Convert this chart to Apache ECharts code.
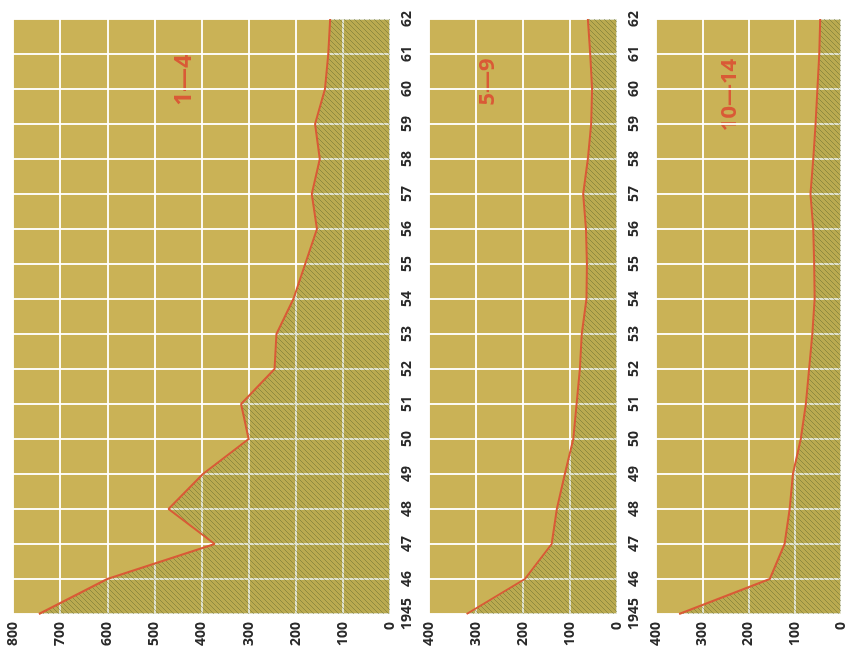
<!DOCTYPE html>
<html>
<head>
<meta charset="utf-8">
<script src="https://cdn.jsdelivr.net/npm/echarts@6/dist/echarts.min.js"></script>
<style>
html,body{margin:0;padding:0;background:#fff;}
#chart{width:848px;height:651px;}
</style>
</head>
<body>
<div id="chart"></div>
<script>
// ---- data ----
const years = ['1945','46','47','48','49','50','51','52','53','54','55','56','57','58','59','60','61','62'];
const age1to4 = [745, 600, 372, 470, 397, 300, 316, 245, 241, 205, 180, 155, 166, 149, 159, 138, 131, 127];
const age5to9 = [320, 196, 139, 128, 111, 93, 86, 79, 75, 65, 64, 66, 72, 62, 55, 53, 57, 62];
const age10to14 = [350, 154, 122, 111, 104, 87, 76, 69, 62, 57, 58, 60, 66, 60, 55, 51, 47, 45];
const panelTitles = ['1—4', '5—9', '10—14'];
const panelMax = [800, 400, 400];

// ---- styles ----
const bgColor = '#cab256';
const lineColor = '#d95a36';
const labelFont = {fontFamily: 'Open Sans', fontWeight: 'bold', fontSize: 14, color: '#2a2a2a'};

function makeHatch() {
  const c = document.createElement('canvas');
  const s = 5;
  c.width = s; c.height = s;
  const ctx = c.getContext('2d');
  ctx.fillStyle = 'rgba(130,140,60,0.22)';
  ctx.fillRect(0, 0, s, s);
  ctx.strokeStyle = 'rgba(85,95,40,0.42)';
  ctx.lineWidth = 1;
  ctx.beginPath();
  ctx.moveTo(-1, -1); ctx.lineTo(s + 1, s + 1);
  ctx.moveTo(-1, s - 1); ctx.lineTo(1, s + 1);
  ctx.moveTo(s - 1, -1); ctx.lineTo(s + 1, 1);
  ctx.stroke();
  return c;
}
const hatch = makeHatch();

const grids = [
  {left: 13, right: 458, top: 19, bottom: 37},
  {left: 429, right: 231, top: 19, bottom: 37},
  {left: 656, right: 4, top: 19, bottom: 37}
];
const seriesData = [age1to4, age5to9, age10to14];

const chart = echarts.init(document.getElementById('chart'));
const option = {
  animation: false,
  backgroundColor: '#ffffff',
  grid: grids.map(g => Object.assign({show: true, backgroundColor: bgColor, borderWidth: 0}, g)),
  xAxis: grids.map((g, i) => ({
    type: 'value',
    gridIndex: i,
    min: 0,
    max: panelMax[i],
    interval: 100,
    inverse: true,
    position: 'bottom',
    axisLine: {show: false},
    axisTick: {show: false},
    splitLine: {show: true, lineStyle: {color: 'rgba(255,255,255,0.92)', width: 2}},
    axisLabel: Object.assign({rotate: 90, margin: 8}, labelFont)
  })),
  yAxis: grids.map((g, i) => ({
    type: 'category',
    gridIndex: i,
    data: years,
    boundaryGap: false,
    position: 'right',
    axisLine: {show: false},
    axisTick: {show: false},
    splitLine: {show: true, lineStyle: {color: 'rgba(255,255,255,0.92)', width: 2}},
    axisLabel: Object.assign({show: i < 2, rotate: 90, margin: 10, interval: 0}, labelFont)
  })),
  series: seriesData.map((d, i) => ({
    type: 'line',
    xAxisIndex: i,
    yAxisIndex: i,
    data: d,
    symbol: 'none',
    lineStyle: {color: lineColor, width: 2},
    itemStyle: {color: lineColor},
    areaStyle: {color: {image: hatch, repeat: 'repeat'}, opacity: 1},
    z: 3
  })),
  graphic: [
    {type: 'text', x: 184, y: 80, rotation: Math.PI / 2, style: {text: panelTitles[0], fill: lineColor, font: 'bold 24px "Open Sans"', textAlign: 'center', textVerticalAlign: 'middle'}},
    {type: 'text', x: 488, y: 82, rotation: Math.PI / 2, style: {text: panelTitles[1], fill: lineColor, font: 'bold 22px "Open Sans"', textAlign: 'center', textVerticalAlign: 'middle'}},
    {type: 'text', x: 730, y: 95, rotation: Math.PI / 2, style: {text: panelTitles[2], fill: lineColor, font: 'bold 22px "Open Sans"', textAlign: 'center', textVerticalAlign: 'middle'}}
  ]
};
chart.setOption(option);
</script>
</body>
</html>
